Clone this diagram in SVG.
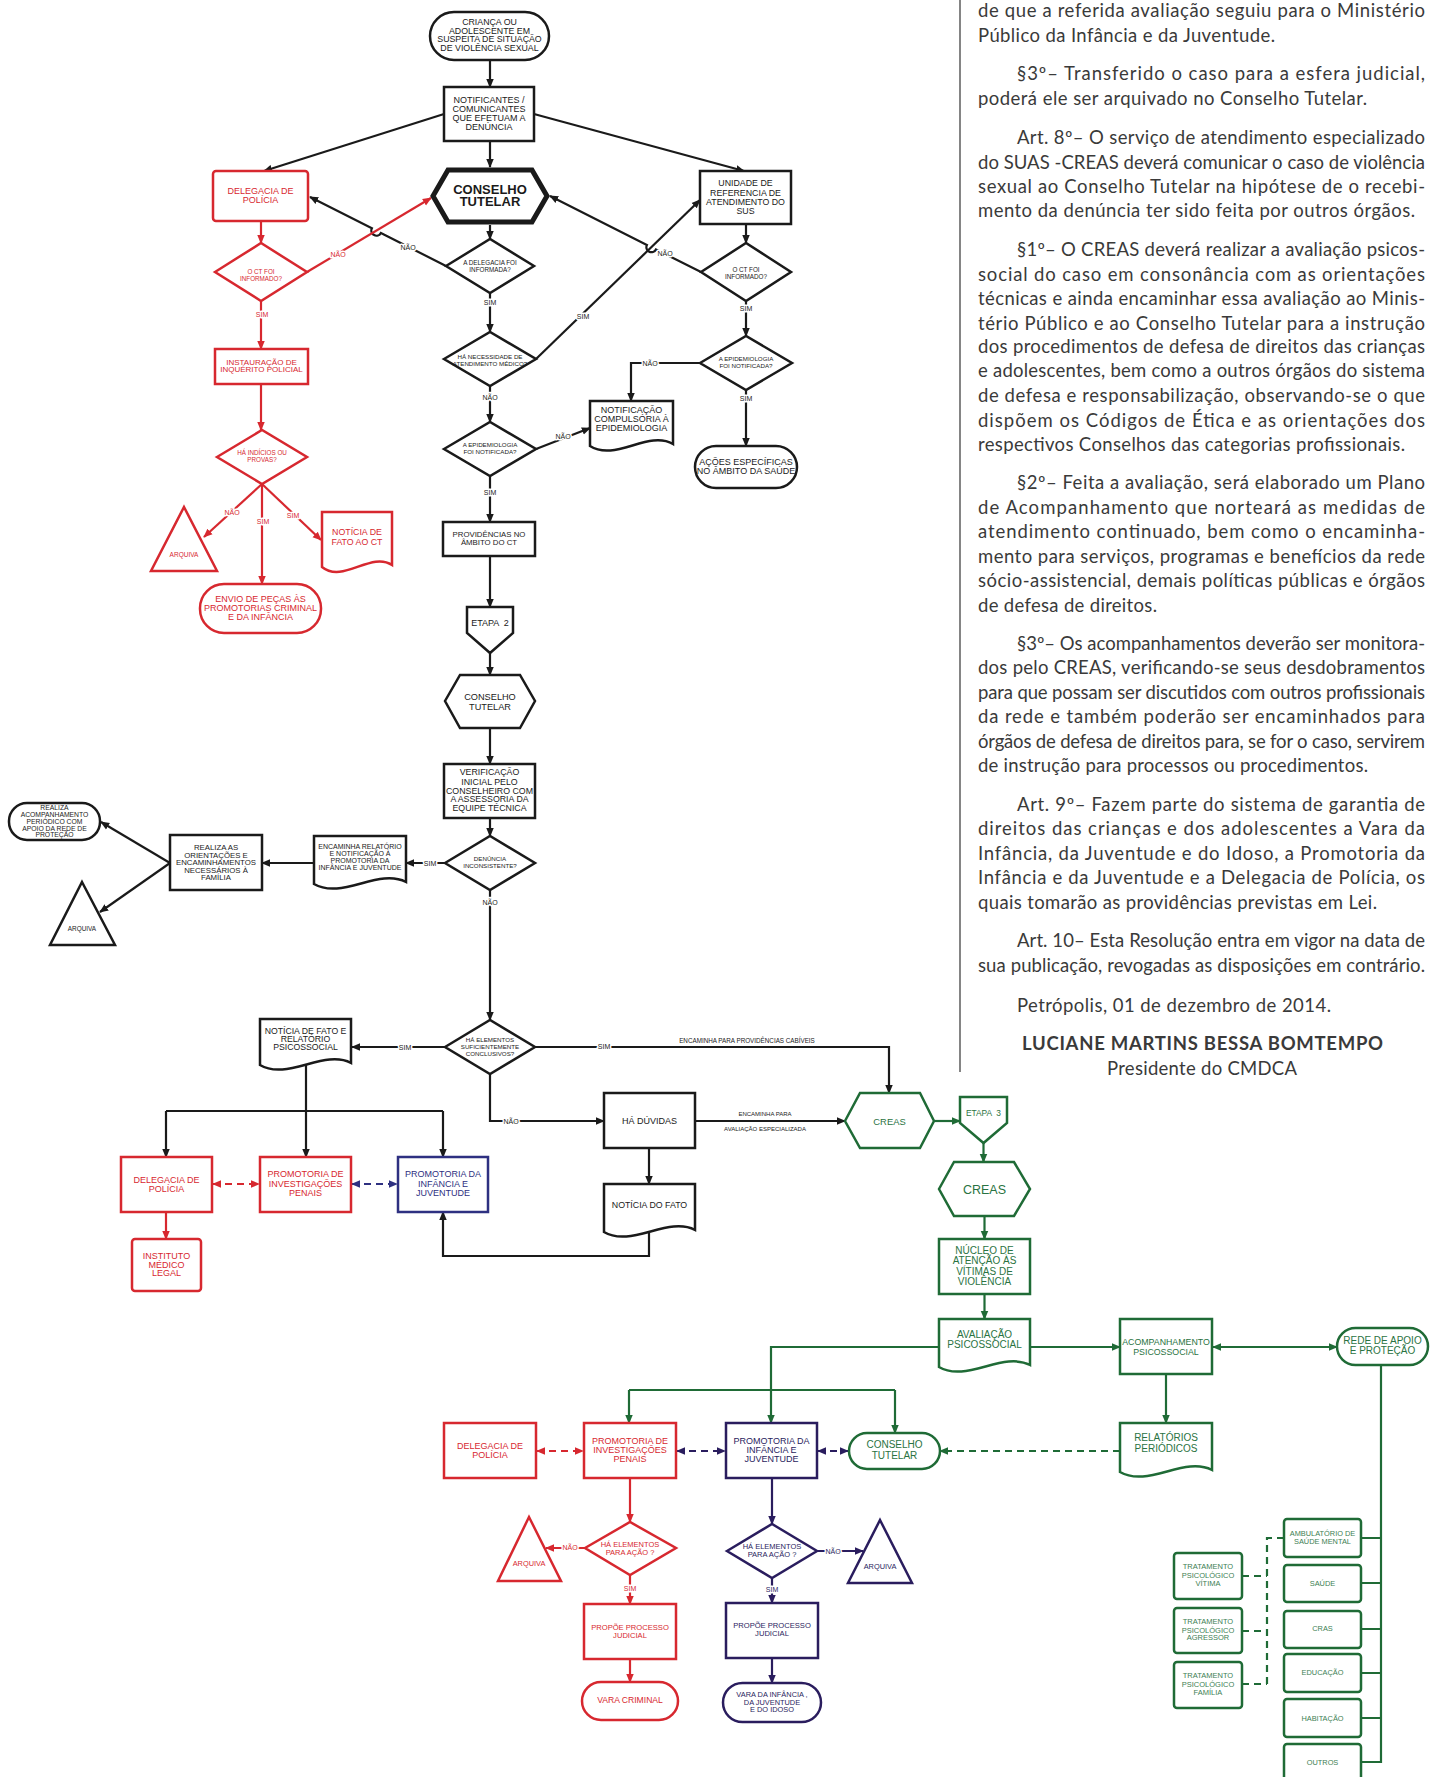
<svg xmlns="http://www.w3.org/2000/svg" width="1437" height="1777" viewBox="0 0 1437 1777">
<defs>
<style>
.t{font-family:'Liberation Sans',Arial,Helvetica,sans-serif;text-anchor:middle}
.k{fill:#1a1a1a}.r{fill:#d7282f}.n{fill:#2e3081}.m{fill:#2a1d5e}.g{fill:#2a7342}.gl{fill:#3d8053}
.sk{fill:#fff;stroke:#1a1a1a;stroke-width:2.5}
.sr{fill:#fff;stroke:#d7282f;stroke-width:2.5}
.sn{fill:#fff;stroke:#2e3081;stroke-width:2.5}
.sm{fill:#fff;stroke:#2a1d5e;stroke-width:2.5}
.sg{fill:#fff;stroke:#1f6b36;stroke-width:2.5}
.c{fill:none;stroke-width:2.2}
.ck{stroke:#1a1a1a}.cr{stroke:#d7282f}.cn{stroke:#2e3081}.cm{stroke:#2a1d5e}.cg{stroke:#1f6b36}
.d{stroke-dasharray:7 5}
.lb{paint-order:stroke;stroke:#fff;stroke-width:3px;stroke-linejoin:round;font-size:7px}
.p{font-family:Lato,'Open Sans',sans-serif;font-size:18.5px;font-weight:400;fill:#3a3a3a}
</style>
<marker id="ak" viewBox="0 0 10 10" refX="9" refY="5" markerWidth="9" markerHeight="9" markerUnits="userSpaceOnUse" orient="auto-start-reverse"><path d="M0,0.8 L10,5 L0,9.2z" fill="#1a1a1a"/></marker>
<marker id="ar" viewBox="0 0 10 10" refX="9" refY="5" markerWidth="9" markerHeight="9" markerUnits="userSpaceOnUse" orient="auto-start-reverse"><path d="M0,0.8 L10,5 L0,9.2z" fill="#d7282f"/></marker>
<marker id="an" viewBox="0 0 10 10" refX="9" refY="5" markerWidth="9" markerHeight="9" markerUnits="userSpaceOnUse" orient="auto-start-reverse"><path d="M0,0.8 L10,5 L0,9.2z" fill="#2e3081"/></marker>
<marker id="am" viewBox="0 0 10 10" refX="9" refY="5" markerWidth="9" markerHeight="9" markerUnits="userSpaceOnUse" orient="auto-start-reverse"><path d="M0,0.8 L10,5 L0,9.2z" fill="#2a1d5e"/></marker>
<marker id="ag" viewBox="0 0 10 10" refX="9" refY="5" markerWidth="9" markerHeight="9" markerUnits="userSpaceOnUse" orient="auto-start-reverse"><path d="M0,0.8 L10,5 L0,9.2z" fill="#1f6b36"/></marker>
</defs>
<rect width="1437" height="1777" fill="#fff"/>

<!-- connectors -->
<g id="connectors">
<g class="c ck" marker-end="url(#ak)">
<path d="M490,60 V87"/>
<path d="M490,141 V167"/>
<path d="M444,114 L264,171"/>
<path d="M534,114 L744,171"/>
<path d="M490,225 V239"/>
<path d="M446,266 L380.9,232.9 A5,5 0 0 1 371.9,228.3 L310,197"/>
<path d="M701,272 L655.9,249.4 A5,5 0 0 1 646.9,245 L550,196"/>
<path d="M536,359 L700,200"/>
<path d="M490,293 V332"/>
<path d="M490,386 V422"/>
<path d="M536,449 L590,428"/>
<path d="M746,224 V243"/>
<path d="M746,301 V336"/>
<path d="M700,363 H631 V401"/>
<path d="M746,390 V446"/>
<path d="M490,476 V522"/>
<path d="M490,556 V607"/>
<path d="M490,653 V675"/>
<path d="M490,728 V764"/>
<path d="M490,818 V836"/>
<path d="M445,863 H406"/>
<path d="M314,863 H262"/>
<path d="M170,863 L101,822"/>
<path d="M170,863 L100,912"/>
<path d="M490,890 V1020"/>
<path d="M445,1047 H352"/>
<path d="M535,1047 H889 V1093"/>
<path d="M490,1074 V1121 H604"/>
<path d="M695,1121 H845"/>
<path d="M649,1148 V1184"/>
<path d="M649,1232 V1256 H443 V1212"/>
<path d="M306,1065 V1157"/>
<path d="M166,1111 V1157"/>
<path d="M443,1111 V1157"/>
</g>
<path class="c ck" d="M166,1111 H443"/>
<g class="c cr" marker-end="url(#ar)">
<path d="M261,221 V243"/>
<path d="M307,272 L431,198"/>
<path d="M261,301 V349"/>
<path d="M261,384 V430"/>
<path d="M262,484 L204,537"/>
<path d="M262,484 V584"/>
<path d="M262,484 L321,540"/>
<path d="M166,1212 V1239"/>
<path d="M630,1478 V1522"/>
<path d="M585,1548 H546"/>
<path d="M630,1575 V1604"/>
<path d="M630,1659 V1682"/>
</g>
<g class="c cr d" marker-start="url(#ar)" marker-end="url(#ar)">
<path d="M213,1184 H259"/>
<path d="M537,1451 H583"/>
</g>
<g class="c cn d" marker-start="url(#an)" marker-end="url(#an)">
<path d="M352,1184 H397"/>
</g>
<g class="c cm d" marker-start="url(#am)" marker-end="url(#am)">
<path d="M677,1451 H725"/>
<path d="M818,1451 H848"/>
</g>
<g class="c cm" marker-end="url(#am)">
<path d="M772,1478 V1524"/>
<path d="M817,1551 H863"/>
<path d="M772,1578 V1603"/>
<path d="M772,1658 V1683"/>
</g>
<g class="c cg" marker-end="url(#ag)">
<path d="M934,1121 H960"/>
<path d="M983.5,1143 V1162"/>
<path d="M984.5,1216 V1239"/>
<path d="M984.5,1294 V1319"/>
<path d="M1030,1347 H1120"/>
<path d="M1166,1374 V1423"/>
<path d="M939,1347 H771 V1423"/>
<path d="M629,1390 V1423"/>
<path d="M895,1390 V1433"/>
</g>
<path class="c cg" d="M629,1390 H895"/>
<path class="c cg" d="M1213,1347 H1337" marker-start="url(#ag)" marker-end="url(#ag)"/>
<path class="c cg d" d="M1120,1451 H940" marker-end="url(#ag)"/>
<path class="c cg" d="M1381,1365 V1763 M1361,1538 H1381 M1361,1583 H1381 M1361,1629 H1381 M1361,1673 H1381 M1361,1718 H1381 M1361,1762 H1381"/>
<path class="c cg d" d="M1284,1538 H1267 V1684 M1242,1576 H1267 M1242,1631 H1267 M1242,1684 H1267"/>

<g class="t">
<text class="k lb" x="408" y="249.5">NÃO</text>
<text class="k lb" x="665" y="256">NÃO</text>
<text class="k lb" x="583" y="318.5">SIM</text>
<text class="k lb" x="490" y="304.5">SIM</text>
<text class="k lb" x="490" y="399.5">NÃO</text>
<text class="k lb" x="563" y="438.5">NÃO</text>
<text class="k lb" x="746" y="310.5">SIM</text>
<text class="k lb" x="650" y="365.5">NÃO</text>
<text class="k lb" x="746" y="400.5">SIM</text>
<text class="k lb" x="490" y="494.5">SIM</text>
<text class="k lb" x="430" y="865.5">SIM</text>
<text class="k lb" x="490" y="904.5">NÃO</text>
<text class="k lb" x="405" y="1049.5">SIM</text>
<text class="k lb" x="604" y="1048.5">SIM</text>
<text class="k" x="747" y="1043" font-size="6.3">ENCAMINHA PARA PROVIDÊNCIAS CABÍVEIS</text>
<text class="k lb" x="511" y="1124">NÃO</text>
<text class="k" x="765" y="1115.5" font-size="6">ENCAMINHA PARA</text>
<text class="k" x="765" y="1131" font-size="6">AVALIAÇÃO ESPECIALIZADA</text>
<text class="r lb" x="338" y="256.5">NÃO</text>
<text class="r lb" x="262" y="316.5">SIM</text>
<text class="r lb" x="232" y="514.5">NÃO</text>
<text class="r lb" x="263" y="523.5">SIM</text>
<text class="r lb" x="293" y="517.5">SIM</text>
<text class="r lb" x="570" y="1549.5">NÃO</text>
<text class="r lb" x="630" y="1590.5">SIM</text>
<text class="m lb" x="833" y="1553.5">NÃO</text>
<text class="m lb" x="772" y="1591.5">SIM</text>
</g>
</g>

<!-- nodes -->
<g class="t">
<g id="n_start"><rect class="sk" x="430" y="12" width="119" height="48" rx="24"/>
<text class="k" font-size="8.8"><tspan x="489.5" y="25">CRIANÇA OU</tspan><tspan x="489.5" y="33.5">ADOLESCENTE EM</tspan><tspan x="489.5" y="42">SUSPEITA DE SITUAÇÃO</tspan><tspan x="489.5" y="50.5">DE VIOLÊNCIA SEXUAL</tspan></text></g>

<g id="n_notif"><rect class="sk" x="444" y="87" width="90" height="54"/>
<text class="k" font-size="9"><tspan x="489" y="102.5">NOTIFICANTES /</tspan><tspan x="489" y="111.5">COMUNICANTES</tspan><tspan x="489" y="120.5">QUE EFETUAM A</tspan><tspan x="489" y="129.5">DENÚNCIA</tspan></text></g>

<g id="n_ct"><polygon class="sk" style="stroke-width:5" points="433,196 448,170 532,170 547,196 532,222 448,222"/>
<text class="k" font-size="13" font-weight="bold"><tspan x="490" y="193.5">CONSELHO</tspan><tspan x="490" y="205.5">TUTELAR</tspan></text></g>

<g id="n_deleg1"><rect class="sr" x="213" y="171" width="95" height="50" rx="3"/>
<text class="r" font-size="9"><tspan x="260.5" y="194">DELEGACIA DE</tspan><tspan x="260.5" y="202.5">POLÍCIA</tspan></text></g>

<g id="n_unid"><rect class="sk" x="700" y="171" width="91" height="53"/>
<text class="k" font-size="8.8"><tspan x="745.5" y="186">UNIDADE DE</tspan><tspan x="745.5" y="195.5">REFERENCIA DE</tspan><tspan x="745.5" y="205">ATENDIMENTO DO</tspan><tspan x="745.5" y="214">SUS</tspan></text></g>

<g id="n_q_deleg"><polygon class="sk" points="446,266 490,239 534,266 490,293"/>
<text class="k" font-size="6.3"><tspan x="490" y="265.3">A DELEGACIA FOI</tspan><tspan x="490" y="271.8">INFORMADA?</tspan></text></g>

<g id="n_q_ct_red"><polygon class="sr" points="215,272 261,243 307,272 261,301"/>
<text class="r" font-size="6.3"><tspan x="261" y="273.5">O CT FOI</tspan><tspan x="261" y="280.5">INFORMADO?</tspan></text></g>

<g id="n_q_ct_right"><polygon class="sk" points="701,272 746,243 791,272 746,301"/>
<text class="k" font-size="6.3"><tspan x="746" y="271.5">O CT FOI</tspan><tspan x="746" y="278.5">INFORMADO?</tspan></text></g>

<g id="n_q_nec"><polygon class="sk" points="444,359 490,332 536,359 490,386"/>
<text class="k" font-size="6.2"><tspan x="490" y="359">HÁ NECESSIDADE DE</tspan><tspan x="490" y="365.5">ATENDIMENTO MÉDICO?</tspan></text></g>

<g id="n_q_epi1"><polygon class="sk" points="444,449 490,422 536,449 490,476"/>
<text class="k" font-size="6.2"><tspan x="490" y="446.5">A EPIDEMIOLOGIA</tspan><tspan x="490" y="454">FOI NOTIFICADA?</tspan></text></g>

<g id="n_notifcomp"><path class="sk" d="M590,401 H673 V444 C648,430 615,462 590,446 Z"/>
<text class="k" font-size="9"><tspan x="631.5" y="413">NOTIFICAÇÃO</tspan><tspan x="631.5" y="422">COMPULSÓRIA À</tspan><tspan x="631.5" y="431">EPIDEMIOLOGIA</tspan></text></g>

<g id="n_q_epi2"><polygon class="sk" points="700,363 746,336 792,363 746,390"/>
<text class="k" font-size="6.2"><tspan x="746" y="361">A EPIDEMIOLOGIA</tspan><tspan x="746" y="368">FOI NOTIFICADA?</tspan></text></g>

<g id="n_acoes"><rect class="sk" x="695" y="446" width="102" height="42" rx="21"/>
<text class="k" font-size="9"><tspan x="746" y="465">AÇÕES ESPECÍFICAS</tspan><tspan x="746" y="474">NO ÂMBITO DA SAÚDE</tspan></text></g>

<g id="n_prov"><rect class="sk" x="443" y="522" width="92" height="34"/>
<text class="k" font-size="7.8"><tspan x="489" y="537">PROVIDÊNCIAS NO</tspan><tspan x="489" y="545">ÂMBITO DO CT</tspan></text></g>

<g id="n_instaur"><rect class="sr" x="215" y="349" width="93" height="35"/>
<text class="r" font-size="8"><tspan x="261.5" y="365">INSTAURAÇÃO DE</tspan><tspan x="261.5" y="372">INQUÉRITO POLICIAL</tspan></text></g>

<g id="n_q_ind"><polygon class="sr" points="217,457 262,430 307,457 262,484"/>
<text class="r" font-size="6.3"><tspan x="262" y="454.5">HÁ INDÍCIOS OU</tspan><tspan x="262" y="461.5">PROVAS?</tspan></text></g>

<g id="n_arq_red"><polygon class="sr" points="184,507 217,571 151,571"/>
<text class="r" font-size="6.5" x="184" y="556.5">ARQUIVA</text></g>

<g id="n_noticia_ct"><path class="sr" d="M322,512 H392 V565 C371,551 343,584 322,567 Z"/>
<text class="r" font-size="8.8"><tspan x="357" y="535">NOTÍCIA DE</tspan><tspan x="357" y="544.5">FATO AO CT</tspan></text></g>

<g id="n_envio"><rect class="sr" x="200" y="584" width="121" height="49" rx="24"/>
<text class="r" font-size="9"><tspan x="260.5" y="602">ENVIO DE PEÇAS ÀS</tspan><tspan x="260.5" y="611">PROMOTORIAS CRIMINAL</tspan><tspan x="260.5" y="620">E DA INFÂNCIA</tspan></text></g>

<g id="n_etapa2"><polygon class="sk" points="467,607 513,607 513,633 490,653 467,633"/>
<text class="k" font-size="9" x="490" y="626" xml:space="preserve">ETAPA  2</text></g>

<g id="n_ct2"><polygon class="sk" points="445,701 460,675 520,675 535,701 520,728 460,728"/>
<text class="k" font-size="9.2"><tspan x="490" y="700">CONSELHO</tspan><tspan x="490" y="709.5">TUTELAR</tspan></text></g>

<g id="n_verif"><rect class="sk" x="444" y="764" width="91" height="54"/>
<text class="k" font-size="8.8"><tspan x="489.5" y="775">VERIFICAÇÃO</tspan><tspan x="489.5" y="784.5">INICIAL PELO</tspan><tspan x="489.5" y="793.5">CONSELHEIRO COM</tspan><tspan x="489.5" y="802">A ASSESSORIA DA</tspan><tspan x="489.5" y="811">EQUIPE TÉCNICA</tspan></text></g>

<g id="n_q_den"><polygon class="sk" points="445,863 490,836 535,863 490,890"/>
<text class="k" font-size="6.2"><tspan x="490" y="861">DENÚNCIA</tspan><tspan x="490" y="868">INCONSISTENTE?</tspan></text></g>

<g id="n_encam_rel"><path class="sk" d="M314,836 H406 V882 C378,868 342,900 314,884 Z"/>
<text class="k" font-size="7"><tspan x="360" y="848.5">ENCAMINHA RELATÓRIO</tspan><tspan x="360" y="855.5">E NOTIFICAÇÃO À</tspan><tspan x="360" y="862.5">PROMOTORIA DA</tspan><tspan x="360" y="870">INFÂNCIA E JUVENTUDE</tspan></text></g>

<g id="n_realiza_or"><rect class="sk" x="170" y="835" width="92" height="55"/>
<text class="k" font-size="7.8"><tspan x="216" y="850">REALIZA AS</tspan><tspan x="216" y="857.5">ORIENTAÇÕES E</tspan><tspan x="216" y="865">ENCAMINHAMENTOS</tspan><tspan x="216" y="873">NECESSÁRIOS À</tspan><tspan x="216" y="880">FAMÍLIA</tspan></text></g>

<g id="n_realiza_acomp"><rect class="sk" x="9" y="803" width="91" height="37" rx="18"/>
<text class="k" font-size="6.8"><tspan x="54.5" y="810">REALIZA</tspan><tspan x="54.5" y="816.5">ACOMPANHAMENTO</tspan><tspan x="54.5" y="823.5">PERIÓDICO COM</tspan><tspan x="54.5" y="830.5">APOIO DA REDE DE</tspan><tspan x="54.5" y="837">PROTEÇÃO</tspan></text></g>

<g id="n_arq_k"><polygon class="sk" points="82,882 115,945 50,945"/>
<text class="k" font-size="6.4" x="82" y="931">ARQUIVA</text></g>

<g id="n_q_elem"><polygon class="sk" points="445,1047 490,1020 535,1047 490,1074"/>
<text class="k" font-size="6.2"><tspan x="490" y="1042">HÁ ELEMENTOS</tspan><tspan x="490" y="1049">SUFICIENTEMENTE</tspan><tspan x="490" y="1055.5">CONCLUSIVOS?</tspan></text></g>

<g id="n_noticia_rel"><path class="sk" d="M260,1019 H351 V1063 C324,1049 287,1081 260,1065 Z"/>
<text class="k" font-size="8.7"><tspan x="305.5" y="1034">NOTÍCIA DE FATO E</tspan><tspan x="305.5" y="1042">RELATÓRIO</tspan><tspan x="305.5" y="1050">PSICOSSOCIAL</tspan></text></g>

<g id="n_duvidas"><rect class="sk" x="604" y="1093" width="91" height="55"/>
<text class="k" font-size="9" x="649.5" y="1124">HÁ DÚVIDAS</text></g>

<g id="n_noticia_fato"><path class="sk" d="M604,1184 H695 V1230 C668,1216 631,1248 604,1232 Z"/>
<text class="k" font-size="8.8" x="649.5" y="1208">NOTÍCIA DO FATO</text></g>

<g id="n_creas1"><polygon class="sg" points="845,1121 860,1093 920,1093 934,1121 920,1148 860,1148"/>
<text class="g" font-size="9.4" x="889.5" y="1124.5">CREAS</text></g>

<g id="n_deleg2"><rect class="sr" x="121" y="1157" width="91" height="55"/>
<text class="r" font-size="9"><tspan x="166.5" y="1183">DELEGACIA DE</tspan><tspan x="166.5" y="1192">POLÍCIA</tspan></text></g>

<g id="n_prom_inv1"><rect class="sr" x="260" y="1157" width="91" height="55"/>
<text class="r" font-size="9"><tspan x="305.5" y="1177">PROMOTORIA DE</tspan><tspan x="305.5" y="1186.5">INVESTIGAÇÕES</tspan><tspan x="305.5" y="1196">PENAIS</tspan></text></g>

<g id="n_prom_inf1"><rect class="sn" x="398" y="1157" width="90" height="55"/>
<text class="n" font-size="9"><tspan x="443" y="1177">PROMOTORIA DA</tspan><tspan x="443" y="1186.5">INFÂNCIA E</tspan><tspan x="443" y="1196">JUVENTUDE</tspan></text></g>

<g id="n_iml"><rect class="sr" x="132" y="1239" width="69" height="52" rx="3"/>
<text class="r" font-size="9"><tspan x="166.5" y="1259">INSTITUTO</tspan><tspan x="166.5" y="1267.5">MÉDICO</tspan><tspan x="166.5" y="1276">LEGAL</tspan></text></g>

<g id="n_etapa3"><polygon class="sg" points="960,1097 1007,1097 1007,1123 983.5,1143 960,1123"/>
<text class="g" font-size="8.4" x="983.5" y="1116" xml:space="preserve">ETAPA  3</text></g>

<g id="n_creas2"><polygon class="sg" points="939,1189 954,1162 1014,1162 1030,1189 1014,1216 954,1216"/>
<text class="g" font-size="12.5" x="984.5" y="1193.5">CREAS</text></g>

<g id="n_nucleo"><rect class="sg" x="939" y="1239" width="91" height="55"/>
<text class="g" font-size="10"><tspan x="984.5" y="1253.5">NÚCLEO DE</tspan><tspan x="984.5" y="1264">ATENÇÃO ÀS</tspan><tspan x="984.5" y="1274.5">VÍTIMAS DE</tspan><tspan x="984.5" y="1285">VIOLÊNCIA</tspan></text></g>

<g id="n_aval"><path class="sg" d="M939,1319 H1030 V1365 C1003,1351 966,1383 939,1367 Z"/>
<text class="g" font-size="10"><tspan x="984.5" y="1337.5">AVALIAÇÃO</tspan><tspan x="984.5" y="1348">PSICOSSOCIAL</tspan></text></g>

<g id="n_acomp"><rect class="sg" x="1120" y="1319" width="92" height="55"/>
<text class="g" font-size="8.8"><tspan x="1166" y="1344.5">ACOMPANHAMENTO</tspan><tspan x="1166" y="1354.5">PSICOSSOCIAL</tspan></text></g>

<g id="n_rede"><rect class="sg" x="1337" y="1328" width="91" height="37" rx="18.5"/>
<text class="g" font-size="10"><tspan x="1382.5" y="1344">REDE DE APOIO</tspan><tspan x="1382.5" y="1354">E PROTEÇÃO</tspan></text></g>

<g id="n_relat"><path class="sg" d="M1120,1423 H1212 V1470 C1184,1456 1148,1488 1120,1472 Z"/>
<text class="g" font-size="10"><tspan x="1166" y="1440.5">RELATÓRIOS</tspan><tspan x="1166" y="1451.5">PERIÓDICOS</tspan></text></g>

<g id="n_ct_green"><rect class="sg" x="849" y="1433" width="91" height="36" rx="18"/>
<text class="g" font-size="10"><tspan x="894.5" y="1447.5">CONSELHO</tspan><tspan x="894.5" y="1458.5">TUTELAR</tspan></text></g>

<g id="n_deleg3"><rect class="sr" x="444" y="1423" width="92" height="55"/>
<text class="r" font-size="9"><tspan x="490" y="1449">DELEGACIA DE</tspan><tspan x="490" y="1458">POLÍCIA</tspan></text></g>

<g id="n_prom_inv2"><rect class="sr" x="584" y="1423" width="92" height="55"/>
<text class="r" font-size="9"><tspan x="630" y="1444">PROMOTORIA DE</tspan><tspan x="630" y="1453">INVESTIGAÇÕES</tspan><tspan x="630" y="1461.5">PENAIS</tspan></text></g>

<g id="n_prom_inf2"><rect class="sm" x="726" y="1423" width="91" height="55"/>
<text class="m" font-size="9"><tspan x="771.5" y="1444">PROMOTORIA DA</tspan><tspan x="771.5" y="1453">INFÂNCIA E</tspan><tspan x="771.5" y="1461.5">JUVENTUDE</tspan></text></g>

<g id="n_q_red2"><polygon class="sr" points="585,1548 630,1522 676,1548 630,1575"/>
<text class="r" font-size="7.5"><tspan x="630" y="1547">HÁ ELEMENTOS</tspan><tspan x="630" y="1555">PARA AÇÃO ?</tspan></text></g>

<g id="n_arq_red2"><polygon class="sr" points="529,1517 561,1581 498,1581"/>
<text class="r" font-size="7.4" x="529" y="1566">ARQUIVA</text></g>

<g id="n_prop_red"><rect class="sr" x="584" y="1604" width="92" height="55"/>
<text class="r" font-size="7.6"><tspan x="630" y="1630">PROPÕE PROCESSO</tspan><tspan x="630" y="1638">JUDICIAL</tspan></text></g>

<g id="n_vara_crim"><rect class="sr" x="582" y="1682" width="96" height="38" rx="19"/>
<text class="r" font-size="8.6" x="630" y="1703">VARA CRIMINAL</text></g>

<g id="n_q_navy"><polygon class="sm" points="727,1551 772,1524 817,1551 772,1578"/>
<text class="m" font-size="7.5"><tspan x="772" y="1549">HÁ ELEMENTOS</tspan><tspan x="772" y="1557">PARA AÇÃO ?</tspan></text></g>

<g id="n_arq_navy"><polygon class="sm" points="880,1520 912,1583 848,1583"/>
<text class="m" font-size="7.4" x="880" y="1569">ARQUIVA</text></g>

<g id="n_prop_navy"><rect class="sm" x="726" y="1603" width="92" height="55"/>
<text class="m" font-size="7.6"><tspan x="772" y="1628">PROPÕE PROCESSO</tspan><tspan x="772" y="1636">JUDICIAL</tspan></text></g>

<g id="n_vara_inf"><rect class="sm" x="723" y="1683" width="98" height="39" rx="19.5"/>
<text class="m" font-size="7.4"><tspan x="772" y="1697">VARA DA INFÂNCIA ,</tspan><tspan x="772" y="1705">DA JUVENTUDE</tspan><tspan x="772" y="1712">E DO IDOSO</tspan></text></g>

<g id="n_ambulatorio"><rect class="sg" x="1284" y="1519" width="77" height="38" rx="3"/>
<text class="gl" font-size="7.4"><tspan x="1322.5" y="1535.7">AMBULATÓRIO DE</tspan><tspan x="1322.5" y="1543.7">SAÚDE MENTAL</tspan></text></g>
<g id="n_saude"><rect class="sg" x="1284" y="1565" width="77" height="37" rx="3"/>
<text class="gl" font-size="7.4" x="1322.5" y="1585.7">SAÚDE</text></g>
<g id="n_cras"><rect class="sg" x="1284" y="1611" width="77" height="37" rx="3"/>
<text class="gl" font-size="7.4" x="1322.5" y="1631">CRAS</text></g>
<g id="n_educacao"><rect class="sg" x="1284" y="1654" width="77" height="38" rx="3"/>
<text class="gl" font-size="7.4" x="1322.5" y="1675">EDUCAÇÃO</text></g>
<g id="n_habitacao"><rect class="sg" x="1284" y="1699" width="77" height="38" rx="3"/>
<text class="gl" font-size="7.4" x="1322.5" y="1721">HABITAÇÃO</text></g>
<g id="n_outros"><rect class="sg" x="1284" y="1744" width="77" height="40" rx="3"/>
<text class="gl" font-size="7.4" x="1322.5" y="1765">OUTROS</text></g>

<g id="n_trat_vitima"><rect class="sg" x="1174" y="1553" width="68" height="46" rx="3"/>
<text class="gl" font-size="7.5"><tspan x="1208" y="1569.4">TRATAMENTO</tspan><tspan x="1208" y="1577.7">PSICOLÓGICO</tspan><tspan x="1208" y="1586">VÍTIMA</tspan></text></g>
<g id="n_trat_agressor"><rect class="sg" x="1174" y="1608" width="68" height="45" rx="3"/>
<text class="gl" font-size="7.5"><tspan x="1208" y="1624.4">TRATAMENTO</tspan><tspan x="1208" y="1632.7">PSICOLÓGICO</tspan><tspan x="1208" y="1640">AGRESSOR</tspan></text></g>
<g id="n_trat_familia"><rect class="sg" x="1174" y="1662" width="68" height="46" rx="3"/>
<text class="gl" font-size="7.5"><tspan x="1208" y="1678.4">TRATAMENTO</tspan><tspan x="1208" y="1687">PSICOLÓGICO</tspan><tspan x="1208" y="1695">FAMÍLIA</tspan></text></g>
</g>

<!-- text column -->
<line x1="960" y1="0" x2="960" y2="1072" stroke="#333" stroke-width="1.2"/>
<g id="text_column" class="p">
<text x="978" y="16.5" textLength="447" lengthAdjust="spacing">de que a referida avaliação seguiu para o Ministério</text>
<text x="978" y="41.5" textLength="297" lengthAdjust="spacing">Público da Infância e da Juventude.</text>
<text x="1017" y="80" textLength="408" lengthAdjust="spacing">§3º– Transferido o caso para a esfera judicial,</text>
<text x="978" y="105" textLength="389" lengthAdjust="spacing">poderá ele ser arquivado no Conselho Tutelar.</text>
<text x="1017" y="143.5" textLength="408" lengthAdjust="spacing">Art. 8º–  O serviço de atendimento especializado</text>
<text x="978" y="168.5" textLength="447" lengthAdjust="spacing">do SUAS -CREAS deverá comunicar o caso de violência</text>
<text x="978" y="192.5" textLength="447" lengthAdjust="spacing">sexual ao Conselho Tutelar na hipótese de o recebi-</text>
<text x="978" y="217" textLength="437" lengthAdjust="spacing">mento da denúncia ter sido feita por outros órgãos.</text>
<text x="1017" y="256" textLength="408" lengthAdjust="spacing">§1º– O CREAS deverá realizar a avaliação psicos-</text>
<text x="978" y="281" textLength="447" lengthAdjust="spacing">social do caso em consonância com as orientações</text>
<text x="978" y="304.5" textLength="447" lengthAdjust="spacing">técnicas e ainda encaminhar essa avaliação ao Minis-</text>
<text x="978" y="329.5" textLength="447" lengthAdjust="spacing">tério Público e ao Conselho Tutelar para a instrução</text>
<text x="978" y="353" textLength="447" lengthAdjust="spacing">dos procedimentos de defesa de direitos das crianças</text>
<text x="978" y="377" textLength="447" lengthAdjust="spacing">e adolescentes, bem como a outros órgãos do sistema</text>
<text x="978" y="402" textLength="447" lengthAdjust="spacing">de defesa e responsabilização, observando-se o que</text>
<text x="978" y="427" textLength="447" lengthAdjust="spacing">dispõem os Códigos de Ética e as orientações dos</text>
<text x="978" y="451" textLength="427" lengthAdjust="spacing">respectivos Conselhos das categorias profissionais.</text>
<text x="1017" y="489" textLength="408" lengthAdjust="spacing">§2º– Feita a avaliação, será elaborado um Plano</text>
<text x="978" y="514" textLength="447" lengthAdjust="spacing">de Acompanhamento que norteará as medidas de</text>
<text x="978" y="538" textLength="447" lengthAdjust="spacing">atendimento continuado, bem como o encaminha-</text>
<text x="978" y="563" textLength="447" lengthAdjust="spacing">mento para serviços, programas e benefícios da rede</text>
<text x="978" y="587" textLength="447" lengthAdjust="spacing">sócio-assistencial, demais políticas públicas e órgãos</text>
<text x="978" y="611.5" textLength="179" lengthAdjust="spacing">de defesa de direitos.</text>
<text x="1017" y="650" textLength="408" lengthAdjust="spacing">§3º– Os acompanhamentos deverão ser monitora-</text>
<text x="978" y="674" textLength="447" lengthAdjust="spacing">dos pelo CREAS, verificando-se seus desdobramentos</text>
<text x="978" y="699" textLength="447" lengthAdjust="spacing">para que possam ser discutidos com outros profissionais</text>
<text x="978" y="723" textLength="447" lengthAdjust="spacing">da rede e também poderão ser encaminhados para</text>
<text x="978" y="747.5" textLength="447" lengthAdjust="spacing">órgãos de defesa de direitos para, se for o caso, servirem</text>
<text x="978" y="771.5" textLength="390" lengthAdjust="spacing">de instrução para processos ou procedimentos.</text>
<text x="1017" y="811" textLength="408" lengthAdjust="spacing">Art. 9º– Fazem parte do sistema de garantia de</text>
<text x="978" y="835" textLength="447" lengthAdjust="spacing">direitos das crianças e dos adolescentes a Vara da</text>
<text x="978" y="860" textLength="447" lengthAdjust="spacing">Infância, da Juventude e do Idoso, a Promotoria da</text>
<text x="978" y="884" textLength="447" lengthAdjust="spacing">Infância e da Juventude e a Delegacia de Polícia, os</text>
<text x="978" y="908.5" textLength="399" lengthAdjust="spacing">quais tomarão as providências previstas em Lei.</text>
<text x="1017" y="947" textLength="408" lengthAdjust="spacing">Art. 10– Esta Resolução entra em vigor na data de</text>
<text x="978" y="972" textLength="447" lengthAdjust="spacing">sua publicação, revogadas as disposições em contrário.</text>
<text x="1017" y="1012" textLength="314" lengthAdjust="spacing">Petrópolis, 01 de dezembro de 2014.</text>
<text x="1022" y="1050" textLength="361" lengthAdjust="spacing" font-weight="bold">LUCIANE MARTINS BESSA BOMTEMPO</text>
<text x="1107" y="1075" textLength="190" lengthAdjust="spacing">Presidente do CMDCA</text>
</g>
</svg>
